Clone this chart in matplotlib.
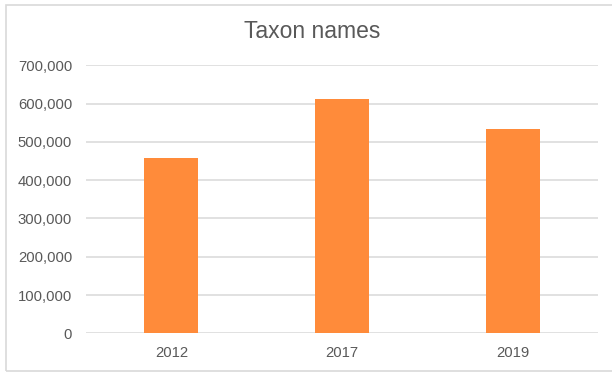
import matplotlib
matplotlib.use("Agg")
import matplotlib.pyplot as plt
from matplotlib.patches import Rectangle
from matplotlib.ticker import FuncFormatter, MultipleLocator

# Data
years = ["2012", "2017", "2019"]
taxon_names = [458000, 611000, 534000]
title = "Taxon names"

bar_color = "#FF8B3A"
text_color = "#595959"
grid_color = "#D9D9D9"

plt.rcParams["font.family"] = ["Liberation Sans", "DejaVu Sans"]

W, H = 612, 372
fig = plt.figure(figsize=(W / 100, H / 100), dpi=100)

# Plot area in pixel coordinates
left, right, top, bottom = 86, 598, 65.3, 333.3
ax = fig.add_axes([left / W, 1 - bottom / H, (right - left) / W, (bottom - top) / H])

x = range(len(years))
ax.bar(x, taxon_names, width=0.316, color=bar_color, zorder=3)

ax.set_xlim(-0.5, len(years) - 0.5)
ax.set_ylim(0, 700000)
ax.yaxis.set_major_locator(MultipleLocator(100000))
ax.yaxis.set_major_formatter(FuncFormatter(lambda v, p: f"{int(v):,}"))
ax.set_xticks(list(x))
ax.set_xticklabels(years)

ax.grid(axis="y", color=grid_color, linewidth=1.1, zorder=0)
ax.grid(axis="x", visible=False)
for s in ax.spines.values():
    s.set_visible(False)
ax.tick_params(axis="both", length=0, labelsize=10.7, labelcolor=text_color)
ax.tick_params(axis="y", pad=10)
ax.tick_params(axis="x", pad=9.4)

# Chart title
fig.text(312 / W, 1 - 31.7 / H, title, ha="center", va="center",
         fontsize=16.5, color=text_color)

# Chart area border
fig.patches.append(Rectangle((6 / W, 1 - 370.5 / H), (620 - 6) / W, (370.5 - 5) / H,
                             transform=fig.transFigure, fill=False,
                             edgecolor=grid_color, linewidth=1.2))

fig.savefig("out.png", dpi=100, facecolor="white")
